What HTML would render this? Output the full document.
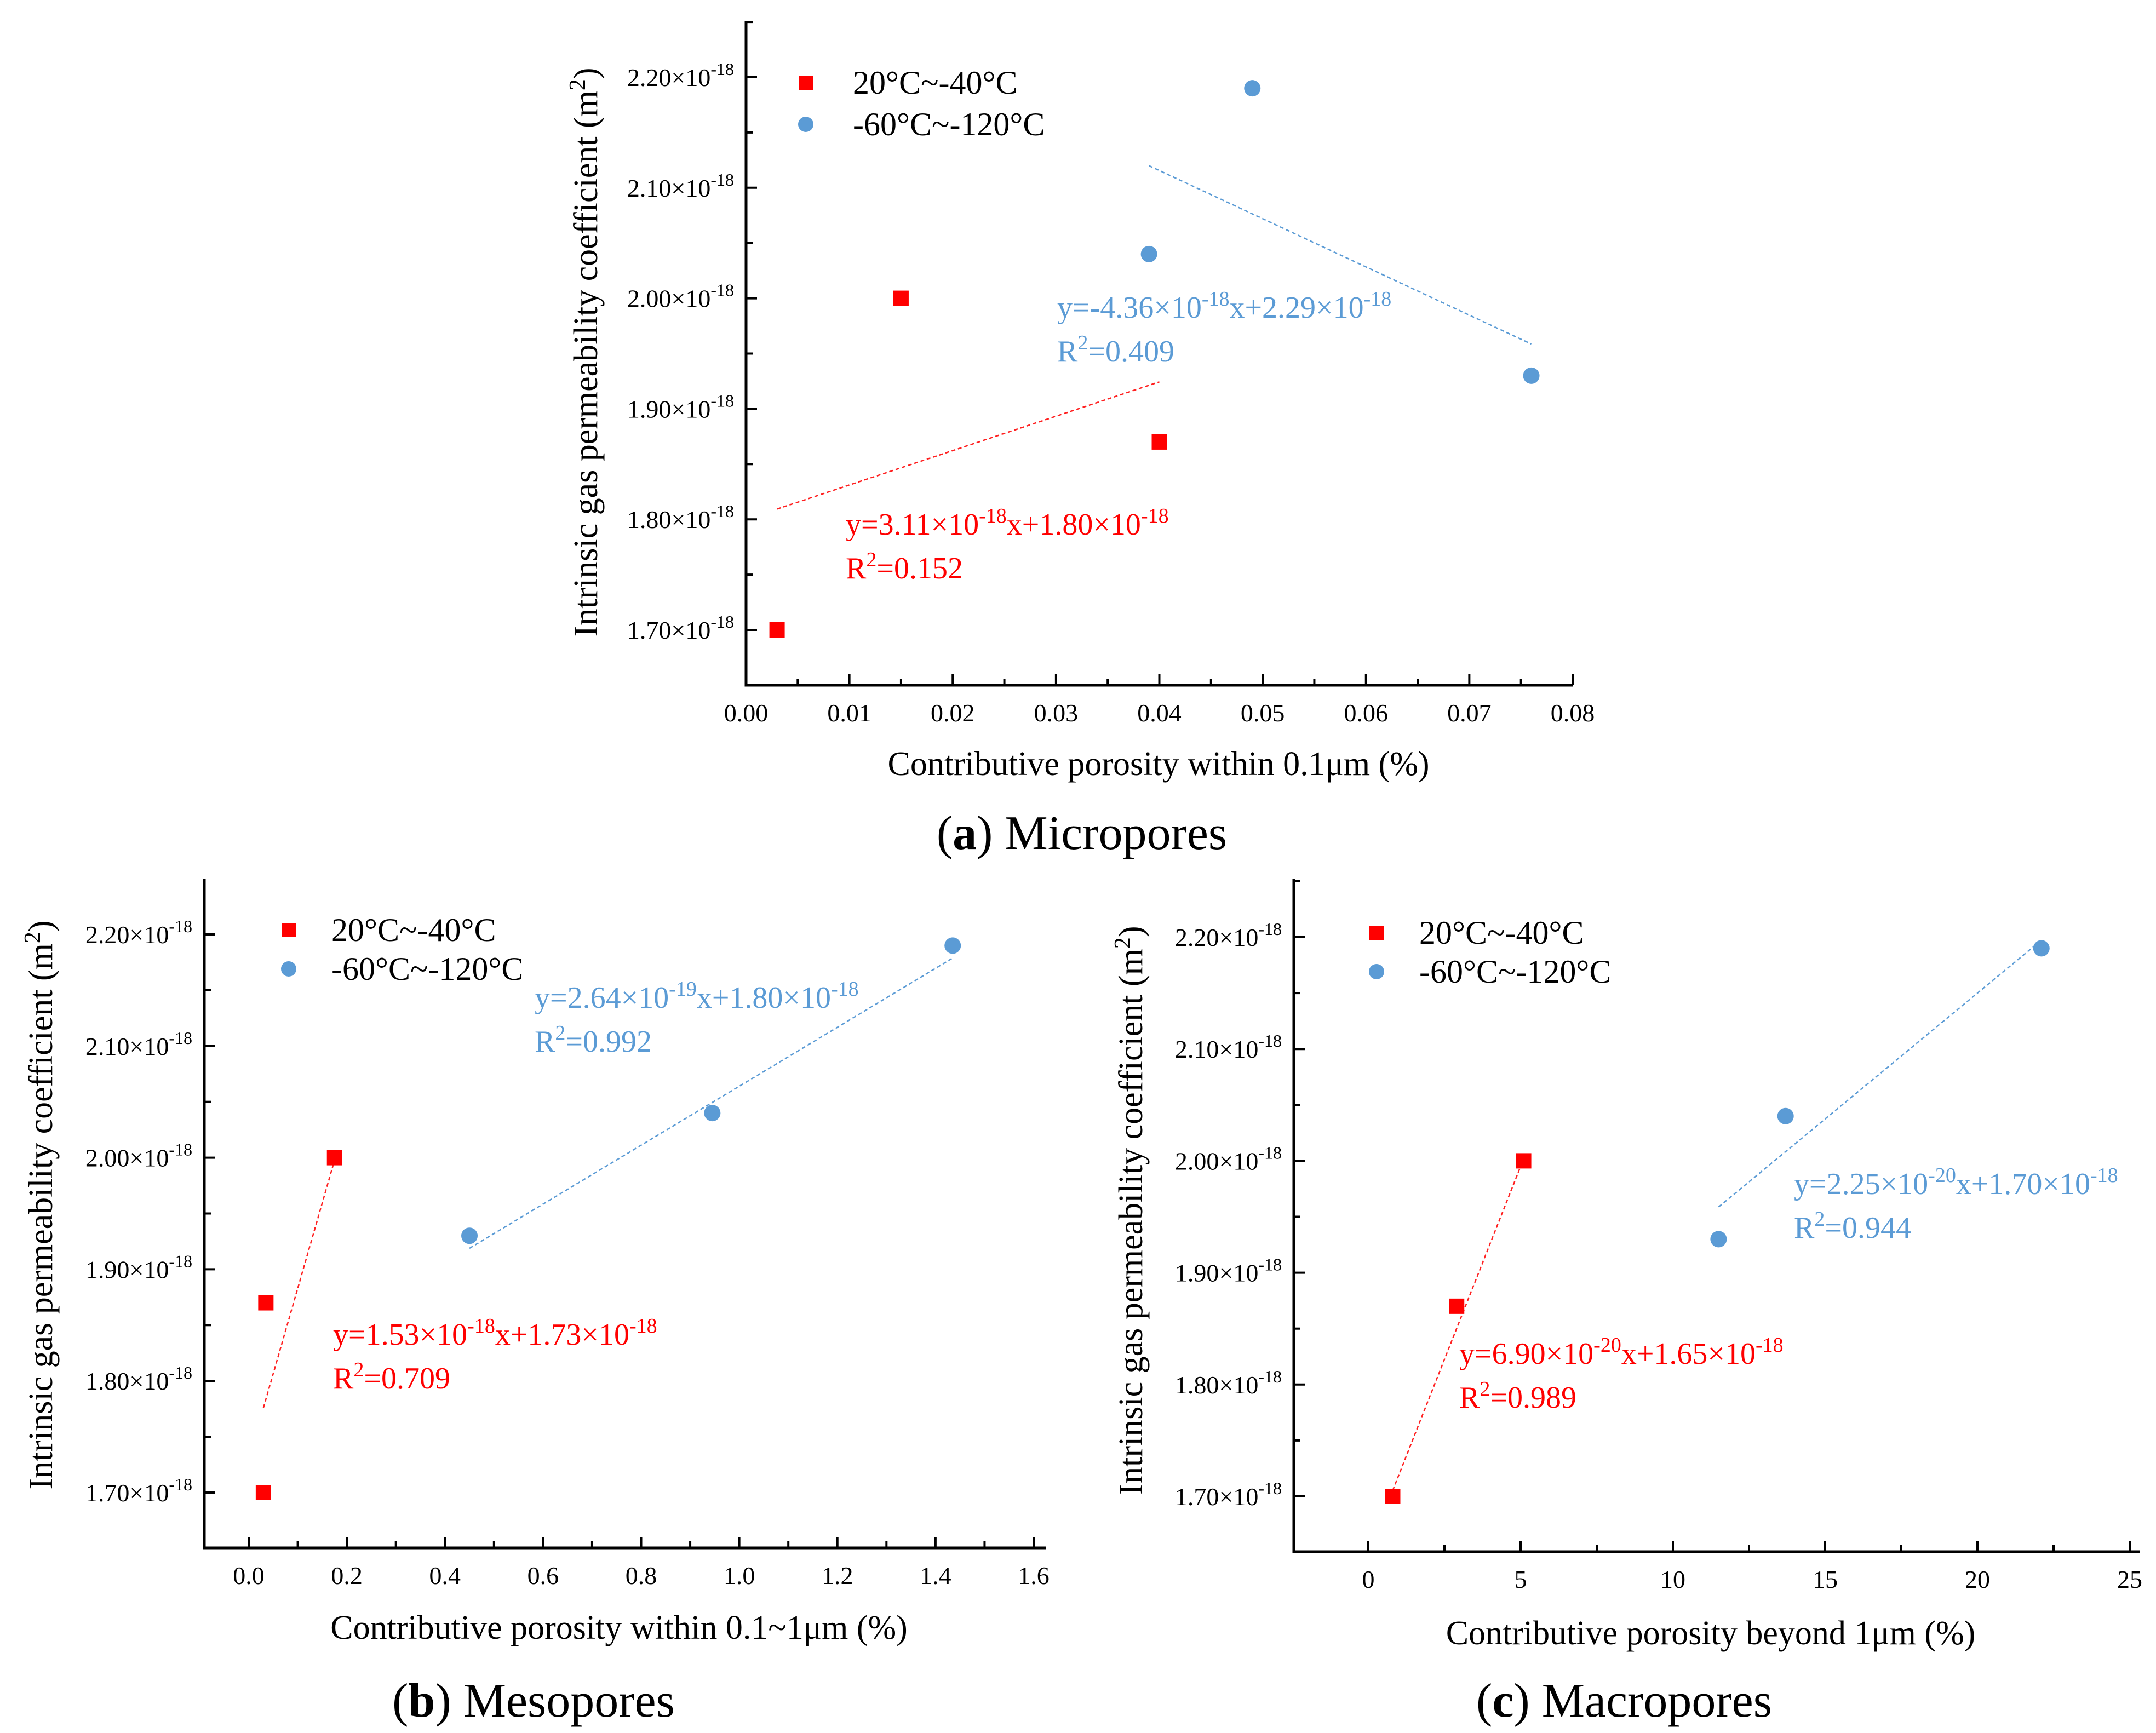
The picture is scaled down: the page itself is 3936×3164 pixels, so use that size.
<!DOCTYPE html>
<html><head><meta charset="utf-8"><style>
html,body{margin:0;padding:0;background:#fff;}
svg{display:block;font-family:"Liberation Serif",serif;}
</style></head><body>
<svg id="fig" xmlns="http://www.w3.org/2000/svg" width="3936" height="3164" viewBox="0 0 3936 3164"></svg>
<script>
const NS="http://www.w3.org/2000/svg";
const svg=document.getElementById('fig');
// ---- data ----
const yTicks=[1.70,1.80,1.90,2.00,2.10,2.20];
const aXTicks=[0,0.01,0.02,0.03,0.04,0.05,0.06,0.07,0.08];
const aRedX=[0.003,0.015,0.040];
const aRedY=[1.70,2.00,1.87];
const aBlueX=[0.039,0.049,0.076];
const aBlueY=[2.04,2.19,1.93];
const aRedFit=[3.11,1.80];
const aBlueFit=[-4.36,2.29];
const bXTicks=[0,0.2,0.4,0.6,0.8,1.0,1.2,1.4,1.6];
const bRedX=[0.03,0.035,0.175];
const bRedY=[1.70,1.87,2.00];
const bBlueX=[0.45,0.945,1.435];
const bBlueY=[1.93,2.04,2.19];
const bRedFit=[1.53,1.73];
const bBlueFit=[0.264,1.80];
const cXTicks=[0,5,10,15,20,25];
const cRedX=[0.8,2.9,5.1];
const cRedY=[1.70,1.87,2.00];
const cBlueX=[11.5,13.7,22.1];
const cBlueY=[1.93,2.04,2.19];
const cRedFit=[0.069,1.65];
const cBlueFit=[0.0225,1.70];

function el(tag,attrs,parent){const e=document.createElementNS(NS,tag);for(const k in attrs)e.setAttribute(k,attrs[k]);(parent||svg).appendChild(e);return e;}

function panel(o){
  const g=el('g',{});
  
  
  const sx=v=>o.x0px+(v-o.x0v)*(o.x1px-o.x0px)/(o.x1v-o.x0v);
  const sy=v=>o.y0px+(v-1.70)*(o.y1px-o.y0px)/(0.50);
  const ax=el('path',{d:`M${o.left} ${o.top} V${o.bottom} H${o.right}`,stroke:'#000','stroke-width':5,fill:'none'},g);
  
  
  yTicks.forEach((t,i)=>{
    const y=sy(t);
    el('line',{x1:o.left,x2:o.left+20,y1:y,y2:y,stroke:'#000','stroke-width':4},g);
    const ym=sy(t+0.05);
    if(ym>o.top) el('line',{x1:o.left,x2:o.left+12,y1:ym,y2:ym,stroke:'#000','stroke-width':4},g);
    const tx=el('text',{x:o.left-22,y:y+16,'text-anchor':'end','font-size':46},g);
    
    
    tx.innerHTML=t.toFixed(2)+'×10<tspan dy="-20" font-size="32">-18</tspan>';
  });
  o.xt.forEach((t,i)=>{
    const x=sx(t);
    el('line',{x1:x,x2:x,y1:o.bottom,y2:o.bottom-20,stroke:'#000','stroke-width':4},g);
    if(i<o.xt.length-1){const xm=sx((t+o.xt[i+1])/2);el('line',{x1:xm,x2:xm,y1:o.bottom,y2:o.bottom-12,stroke:'#000','stroke-width':4},g);}
    const tx=el('text',{x:x,y:o.bottom+66,'text-anchor':'middle','font-size':46},g);
    
    
    tx.textContent=t.toFixed(o.dec);
  });
  function fit(xs,f,col,name){
    const a=Math.min(...xs),b=Math.max(...xs);
    const l=el('line',{x1:sx(a),y1:sy(f[0]*a+f[1]),x2:sx(b),y2:sy(f[0]*b+f[1]),stroke:col,'stroke-width':2.5,'stroke-dasharray':'7 5'},g);
    
    
  }
  fit(o.rx,o.rf,'#ff2020','red-fit-line');
  fit(o.bx,o.bf,'#5b9bd5','blue-fit-line');
  o.rx.forEach((x,i)=>{
    const r=el('rect',{x:sx(x)-14,y:sy(o.ry[i])-14,width:28,height:28,fill:'#ff0000'},g);
    
    
  });
  o.bx.forEach((x,i)=>{
    const c=el('circle',{cx:sx(x),cy:sy(o.by[i]),r:15,fill:'#5b9bd5'},g);
    
    
  });
  const lg=el('g',{},g);
  
  
  el('rect',{x:o.lx-13,y:o.ly-13,width:26,height:26,fill:'#ff0000'},lg);
  el('circle',{cx:o.lx,cy:o.ly+o.lg,r:14,fill:'#5b9bd5'},lg);
  el('text',{x:o.lx+o.lt,y:o.ly+20,'font-size':60},lg).textContent='20°C~-40°C';
  el('text',{x:o.lx+o.lt,y:o.ly+o.lg+20,'font-size':60},lg).textContent='-60°C~-120°C';
  function ann(x,y,txt,col,name){
    const t=el('text',{x:x,y:y,'font-size':56,fill:col},g);
    
    
    t.innerHTML=txt;
  }
  ann(o.ba[0],o.ba[1],o.bt,'#5b9bd5','blue-equation');
  ann(o.ba[0],o.ba[1]+80,'R<tspan dy="-22" font-size="38">2</tspan><tspan dy="22">=</tspan>'+o.br,'#5b9bd5','blue-r2');
  ann(o.ra[0],o.ra[1],o.rt,'#ff0000','red-equation');
  ann(o.ra[0],o.ra[1]+80,'R<tspan dy="-22" font-size="38">2</tspan><tspan dy="22">=</tspan>'+o.rr,'#ff0000','red-r2');
  const yt=el('text',{x:0,y:0,'font-size':62,'text-anchor':'middle',transform:`translate(${o.ytx},${o.yty}) rotate(-90)`},g);
  
  
  yt.innerHTML='Intrinsic gas permeability coefficient (m<tspan dy="-22" font-size="42">2</tspan><tspan dy="22">)</tspan>';
  const xt=el('text',{x:o.xtx,y:o.xty,'font-size':62,'text-anchor':'middle'},g);
  
  
  xt.textContent=o.xtitle;
  const cp=el('text',{x:o.cx,y:o.cy,'font-size':88,'text-anchor':'middle'},g);
  
  
  cp.innerHTML='(<tspan font-weight="bold">'+o.letter+'</tspan>) '+o.cap;
}
function eq(m1,e1,b,e2){return 'y='+m1+'×10<tspan dy="-22" font-size="38">'+e1+'</tspan><tspan dy="22">x+'+b+'×10</tspan><tspan dy="-22" font-size="38">'+e2+'</tspan>';}

panel({name:'panel-a-micropores',left:1362,right:2871,top:38,bottom:1251,x0v:0,x1v:0.08,x0px:1362,x1px:2871,y0px:1150,y1px:141,xt:aXTicks,dec:2,
  rx:aRedX,ry:aRedY,bx:aBlueX,by:aBlueY,rf:aRedFit,bf:aBlueFit,lx:1471,ly:151,lg:76,lt:86,
  ba:[1930,580],bt:eq('-4.36','-18','2.29','-18'),br:'0.409',ra:[1544,976],rt:eq('3.11','-18','1.80','-18'),rr:'0.152',
  ytx:1090,yty:643,xtx:2115,xty:1415,xtitle:'Contributive porosity within 0.1μm (%)',cx:1975,cy:1550,letter:'a',cap:'Micropores'});
panel({name:'panel-b-mesopores',left:373,right:1910,top:1605,bottom:2826,x0v:0,x1v:1.6,x0px:454,x1px:1887,y0px:2725,y1px:1706,xt:bXTicks,dec:1,
  rx:bRedX,ry:bRedY,bx:bBlueX,by:bBlueY,rf:bRedFit,bf:bBlueFit,lx:527,ly:1698,lg:71,lt:78,
  ba:[976,1840],bt:eq('2.64','-19','1.80','-18'),br:'0.992',ra:[608,2455],rt:eq('1.53','-18','1.73','-18'),rr:'0.709',
  ytx:95,yty:2200,xtx:1130,xty:2992,xtitle:'Contributive porosity within 0.1~1μm (%)',cx:974,cy:3134,letter:'b',cap:'Mesopores'});
panel({name:'panel-c-macropores',left:2362,right:3906,top:1605,bottom:2833,x0v:0,x1v:25,x0px:2498,x1px:3888,y0px:2732,y1px:1711,xt:cXTicks,dec:0,
  rx:cRedX,ry:cRedY,bx:cBlueX,by:cBlueY,rf:cRedFit,bf:cBlueFit,lx:2513,ly:1703,lg:71,lt:78,
  ba:[3275,2180],bt:eq('2.25','-20','1.70','-18'),br:'0.944',ra:[2664,2490],rt:eq('6.90','-20','1.65','-18'),rr:'0.989',
  ytx:2085,yty:2210,xtx:3123,xty:3002,xtitle:'Contributive porosity beyond 1μm (%)',cx:2965,cy:3134,letter:'c',cap:'Macropores'});
</script>
</body></html>
